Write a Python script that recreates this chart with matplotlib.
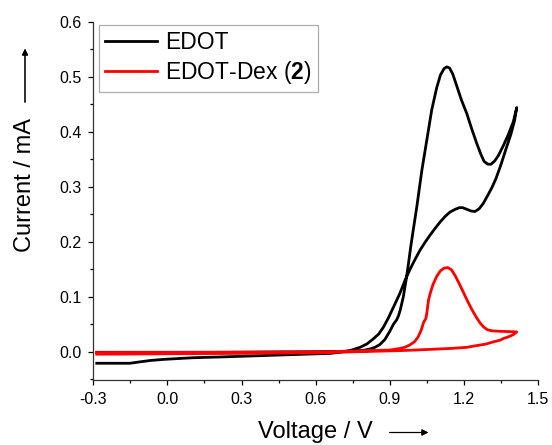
#!/usr/bin/env python
"""Cyclic voltammograms of EDOT and EDOT-Dex (2)."""

import matplotlib
matplotlib.use("Agg")
import matplotlib.pyplot as plt
from matplotlib.ticker import MultipleLocator, FormatStrFormatter

plt.rcParams["font.family"] = ["Liberation Sans", "DejaVu Sans"]
plt.rcParams["mathtext.fontset"] = "custom"
plt.rcParams["mathtext.rm"] = "Liberation Sans"
plt.rcParams["mathtext.bf"] = "Liberation Sans:bold"
plt.rcParams["axes.unicode_minus"] = False

# EDOT: forward scan, then reverse scan (V, mA)
edot_v = [-0.286, 0.2, 0.6, 0.75, 0.78, 0.80, 0.82, 0.84, 0.86, 0.88, 0.90,
          0.915, 0.928, 0.935, 0.942, 0.955, 0.966, 0.976, 0.985, 0.995, 1.01,
          1.03, 1.05, 1.07, 1.09, 1.105, 1.12, 1.131, 1.142, 1.155, 1.17,
          1.19, 1.212, 1.232, 1.252, 1.268, 1.282, 1.297, 1.31, 1.325, 1.34,
          1.36, 1.38, 1.40, 1.414,
          1.405, 1.39, 1.37, 1.35, 1.33, 1.313, 1.295, 1.279, 1.262, 1.245,
          1.228, 1.212, 1.195, 1.182, 1.165, 1.144, 1.124, 1.104, 1.083, 1.063,
          1.043, 1.023, 1.005, 0.99, 0.975, 0.962, 0.94, 0.916, 0.895, 0.875,
          0.855, 0.83, 0.807, 0.78, 0.739, 0.70, 0.66, 0.456, 0.253, 0.1,
          -0.017, -0.07, -0.12, -0.151, -0.286]
edot_i = [-0.001, -0.001, 0.0, 0.001, 0.002, 0.003, 0.005, 0.008, 0.013, 0.022, 0.037,
          0.050, 0.058, 0.065, 0.075, 0.100, 0.130, 0.161, 0.191, 0.221, 0.265,
          0.330, 0.385, 0.440, 0.480, 0.503, 0.515, 0.518, 0.516, 0.505, 0.485,
          0.458, 0.433, 0.405, 0.379, 0.360, 0.346, 0.341, 0.341, 0.347, 0.357,
          0.375, 0.395, 0.418, 0.444,
          0.420, 0.395, 0.368, 0.340, 0.315, 0.298, 0.283, 0.270, 0.260, 0.255,
          0.256, 0.259, 0.262, 0.262, 0.259, 0.254, 0.246, 0.236, 0.224, 0.212,
          0.199, 0.185, 0.170, 0.157, 0.143, 0.130, 0.105, 0.082, 0.062, 0.045,
          0.032, 0.022, 0.014, 0.008, 0.002, -0.001, -0.003, -0.006, -0.009, -0.011,
          -0.014, -0.016, -0.019, -0.021, -0.021]

# EDOT-Dex (2)
dex_v = [-0.286, 0.3, 0.66, 0.9, 0.942, 0.96, 0.98, 1.0, 1.015, 1.028, 1.036,
         1.04, 1.046, 1.05, 1.057, 1.065, 1.075, 1.09, 1.105, 1.12, 1.135,
         1.15, 1.165, 1.18, 1.198, 1.215, 1.232, 1.25, 1.266, 1.28, 1.295,
         1.313, 1.35, 1.39, 1.414,
         1.40, 1.38, 1.36, 1.347, 1.32, 1.29, 1.25, 1.212, 1.15, 1.1,
         1.0, 0.942, 0.6, 0.3, -0.286]
dex_i = [-0.0015, -0.001, 0.0, 0.003, 0.006, 0.008, 0.012, 0.018, 0.027, 0.040, 0.052,
         0.056, 0.060, 0.070, 0.094, 0.108, 0.122, 0.137, 0.147, 0.152, 0.153,
         0.149, 0.138, 0.125, 0.108, 0.092, 0.077, 0.063, 0.052, 0.045, 0.040,
         0.038, 0.037, 0.0365, 0.036,
         0.031, 0.027, 0.024, 0.021, 0.018, 0.014, 0.011, 0.008, 0.006, 0.005,
         0.003, 0.002, -0.002, -0.003, -0.0045]

fig = plt.figure(figsize=(5.52, 4.45), dpi=100)
ax = fig.add_axes([0.169, 0.146, 0.8056, 0.805])

ax.plot(edot_v, edot_i, color="black", lw=2.0, label="EDOT")
ax.plot(dex_v, dex_i, color="red", lw=2.0, label=r"EDOT-Dex ($\mathbf{2}$)")

ax.set_xlim(-0.3, 1.5)
ax.set_ylim(-0.0515, 0.6)
ax.xaxis.set_major_locator(MultipleLocator(0.3))
ax.xaxis.set_minor_locator(MultipleLocator(0.15))
ax.yaxis.set_major_locator(MultipleLocator(0.1))
ax.yaxis.set_minor_locator(MultipleLocator(0.05))
ax.xaxis.set_major_formatter(FormatStrFormatter("%.1f"))
ax.yaxis.set_major_formatter(FormatStrFormatter("%.1f"))
ax.tick_params(which="major", direction="out", length=3.5, width=0.9,
               labelsize=11.5, pad=5)
ax.tick_params(which="minor", direction="out", length=2.2, width=0.9)
ax.spines["top"].set_visible(False)
ax.spines["right"].set_visible(False)
for s in ("left", "bottom"):
    ax.spines[s].set_linewidth(0.9)
    ax.spines[s].set_color("#333333")

leg = ax.legend(loc="upper left", bbox_to_anchor=(0.0128, 0.991),
                borderaxespad=0, fontsize=16.5, handlelength=2.3,
                handletextpad=0.35, labelspacing=0.25, borderpad=0.25,
                frameon=True, fancybox=False)
leg.get_frame().set_edgecolor("#999999")
leg.get_frame().set_linewidth(0.9)

# axis titles with arrows (figure coordinates)
fig.text(25 / 552, 1 - 185 / 445, "Current / mA", rotation=90,
         ha="center", va="center", fontsize=17)
fig.text(315 / 552, 1 - 432 / 445, "Voltage / V",
         ha="center", va="center", fontsize=17)
arrow = dict(arrowstyle="-|>", lw=0.8, color="black", mutation_scale=9)
fig.add_artist(plt.annotate("", xy=(25 / 552, 1 - 46 / 445), xycoords="figure fraction",
                            xytext=(25 / 552, 1 - 105 / 445), textcoords="figure fraction",
                            arrowprops=arrow))
fig.add_artist(plt.annotate("", xy=(431 / 552, 1 - 432.5 / 445), xycoords="figure fraction",
                            xytext=(387 / 552, 1 - 432.5 / 445), textcoords="figure fraction",
                            arrowprops=arrow))

fig.savefig("out.png", dpi=100)
